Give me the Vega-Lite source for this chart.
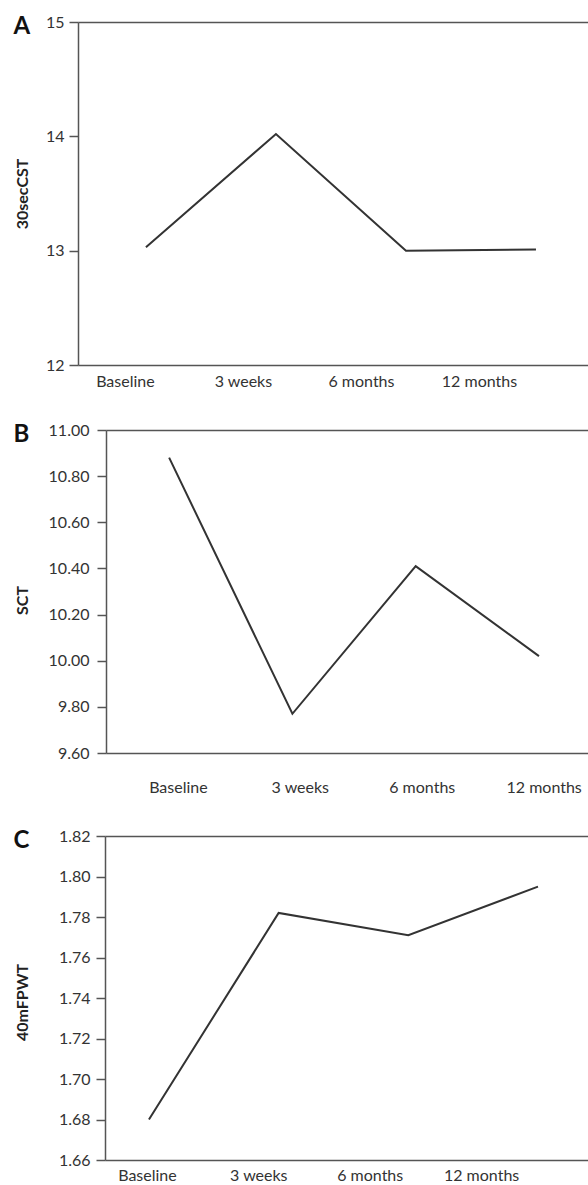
{
  "$schema": "https://vega.github.io/schema/vega-lite/v6.json",
  "padding": {"left": 13, "top": 14, "right": 0, "bottom": 0},
  "vconcat": [
    {
      "width": 512, "height": 343,
      "data": {"values": [
        {"time": "Baseline", "value": 13.03},
        {"time": "3 weeks", "value": 14.02},
        {"time": "6 months", "value": 13.0},
        {"time": "12 months", "value": 13.01}
      ]},
      "layer": [
        {
          "mark": {"type": "line", "color": "#333", "strokeWidth": 2},
          "encoding": {
            "x": {"field": "time", "type": "ordinal", "sort": ["Baseline", "3 weeks", "6 months", "12 months"],
                  "scale": {"type": "point", "padding": 0.469, "align": 0.557},
                  "axis": {"orient": "top", "labels": false, "ticks": false, "title": null, "domain": true, "minExtent": 0, "maxExtent": 0}},
            "y": {"field": "value", "type": "quantitative", "scale": {"domain": [12, 15], "nice": false, "zero": false},
                  "axis": {"values": [12, 13, 14, 15], "title": "30secCST", "tickSize": 9, "labelPadding": 5, "titleX": -51, "titleBaseline": "alphabetic"}}
          }
        },
        {
          "mark": {"type": "point", "opacity": 0},
          "encoding": {
            "x": {"field": "time", "type": "ordinal", "sort": ["Baseline", "3 weeks", "6 months", "12 months"],
                  "scale": {"type": "point", "padding": 0.669, "align": 0.297},
                  "axis": {"orient": "bottom", "ticks": false, "tickSize": 0, "labelPadding": 8, "title": null, "labelAngle": 0}},
            "y": {"field": "value", "type": "quantitative", "scale": {"domain": [12, 15], "nice": false, "zero": false},
                  "axis": {"orient": "left", "values": [15], "labelExpr": "'A'", "domain": false, "ticks": false, "tickSize": 0, "title": null,
                           "labelAlign": "left", "labelPadding": 65, "labelBaseline": "middle", "labelOffset": 4,
                           "labelFontSize": 24, "labelFontWeight": "bold", "labelColor": "#111", "minExtent": 0}}
          }
        }
      ],
      "resolve": {"scale": {"x": "independent", "y": "independent"}}
    },
    {
      "width": 512, "height": 323,
      "data": {"values": [
        {"time": "Baseline", "value": 10.88},
        {"time": "3 weeks", "value": 9.77},
        {"time": "6 months", "value": 10.41},
        {"time": "12 months", "value": 10.02}
      ]},
      "layer": [
        {
          "mark": {"type": "line", "color": "#333", "strokeWidth": 2},
          "encoding": {
            "x": {"field": "time", "type": "ordinal", "sort": ["Baseline", "3 weeks", "6 months", "12 months"],
                  "scale": {"type": "point", "range": [28, 512], "padding": 0.463, "align": 0.553},
                  "axis": {"orient": "top", "labels": false, "ticks": false, "title": null, "domain": true, "minExtent": 0, "maxExtent": 0}},
            "y": {"field": "value", "type": "quantitative", "scale": {"domain": [9.6, 11.0], "nice": false, "zero": false},
                  "axis": {"values": [9.6, 9.8, 10.0, 10.2, 10.4, 10.6, 10.8, 11.0], "format": ".2f", "title": "SCT", "offset": -28, "tickSize": 9, "labelPadding": 8, "titleX": -79, "titleY": 170, "titleBaseline": "alphabetic"}}
          }
        },
        {
          "mark": {"type": "point", "opacity": 0},
          "encoding": {
            "x": {"field": "time", "type": "ordinal", "sort": ["Baseline", "3 weeks", "6 months", "12 months"],
                  "scale": {"type": "point", "range": [28, 512], "padding": 0.485, "align": 0.608},
                  "axis": {"orient": "bottom", "ticks": false, "tickSize": 0, "labelPadding": 26, "title": null, "labelAngle": 0}},
            "y": {"field": "value", "type": "quantitative", "scale": {"domain": [9.6, 11.0], "nice": false, "zero": false},
                  "axis": {"orient": "left", "values": [11.0], "labelExpr": "'B'", "domain": false, "ticks": false, "tickSize": 0, "title": null,
                           "labelAlign": "left", "labelPadding": 65, "labelBaseline": "middle", "labelOffset": 4,
                           "labelFontSize": 24, "labelFontWeight": "bold", "labelColor": "#111", "minExtent": 0}}
          }
        }
      ],
      "resolve": {"scale": {"x": "independent", "y": "independent"}}
    },
    {
      "width": 512, "height": 324,
      "data": {"values": [
        {"time": "Baseline", "value": 1.68},
        {"time": "3 weeks", "value": 1.782},
        {"time": "6 months", "value": 1.771},
        {"time": "12 months", "value": 1.795}
      ]},
      "layer": [
        {
          "mark": {"type": "line", "color": "#333", "strokeWidth": 2},
          "encoding": {
            "x": {"field": "time", "type": "ordinal", "sort": ["Baseline", "3 weeks", "6 months", "12 months"],
                  "scale": {"type": "point", "range": [27, 512], "padding": 0.37, "align": 0.458},
                  "axis": {"orient": "top", "labels": false, "ticks": false, "title": null, "domain": true, "minExtent": 0, "maxExtent": 0}},
            "y": {"field": "value", "type": "quantitative", "scale": {"domain": [1.66, 1.82], "nice": false, "zero": false},
                  "axis": {"values": [1.66, 1.68, 1.7, 1.72, 1.74, 1.76, 1.78, 1.8, 1.82], "format": ".2f", "title": "40mFPWT", "offset": -27, "tickSize": 9, "labelPadding": 6, "titleX": -78, "titleY": 166, "titleBaseline": "alphabetic"}}
          }
        },
        {
          "mark": {"type": "point", "opacity": 0},
          "encoding": {
            "x": {"field": "time", "type": "ordinal", "sort": ["Baseline", "3 weeks", "6 months", "12 months"],
                  "scale": {"type": "point", "range": [27, 512], "padding": 0.677, "align": 0.278},
                  "axis": {"orient": "bottom", "ticks": false, "tickSize": 0, "labelPadding": 7, "title": null, "labelAngle": 0}},
            "y": {"field": "value", "type": "quantitative", "scale": {"domain": [1.66, 1.82], "nice": false, "zero": false},
                  "axis": {"orient": "left", "values": [1.82], "labelExpr": "'C'", "domain": false, "ticks": false, "tickSize": 0, "title": null,
                           "labelAlign": "left", "labelPadding": 65, "labelBaseline": "middle", "labelOffset": 4,
                           "labelFontSize": 24, "labelFontWeight": "bold", "labelColor": "#111", "minExtent": 0}}
          }
        }
      ],
      "resolve": {"scale": {"x": "independent", "y": "independent"}}
    }
  ],
  "spacing": 33,
  "config": {
    "view": {"stroke": null},
    "font": "Lato",
    "axis": {
      "labelFont": "Lato", "labelFontSize": 16, "labelColor": "#333",
      "domainColor": "#555", "domainWidth": 1.5, "tickColor": "#555", "tickWidth": 1.5,
      "grid": false,
      "titleFont": "Lato", "titleFontWeight": "bold", "titleFontSize": 16, "titleColor": "#222"
    }
  }
}
